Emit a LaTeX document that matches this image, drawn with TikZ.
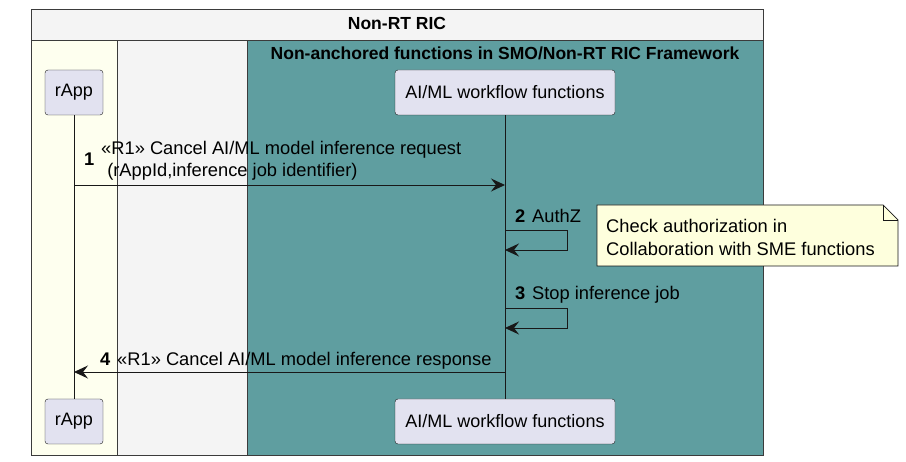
\documentclass[tikz,border=0pt]{standalone}
\usepackage{fontspec}
\setmainfont{Liberation Sans}
\usetikzlibrary{arrows.meta, positioning, calc}

\definecolor{boxgray}{HTML}{F4F4F4}
\definecolor{ivory}{HTML}{FEFFEF}
\definecolor{cadet}{HTML}{5F9EA0}
\definecolor{partfill}{HTML}{E2E2F0}
\definecolor{notefill}{HTML}{FEFFDD}
\definecolor{edge}{HTML}{181818}

\begin{document}
\begin{tikzpicture}[
    x=1pt, y=-1pt,
    >={Stealth[length=14pt, width=13pt, inset=5pt]},
    part/.style={rounded corners=3pt, draw=edge, fill=partfill, minimum height=45pt,
                 inner xsep=8pt, font=\fontsize{18}{20}\selectfont},
    grp/.style={draw=edge!85, line width=0.7pt},
    title/.style={font=\bfseries\fontsize{17.5}{20}\selectfont},
    msg/.style={->, draw=edge, line width=0.9pt},
    lbl/.style={font=\fontsize{18.3}{20}\selectfont, inner sep=0pt, anchor=base west},
    num/.style={font=\bfseries\fontsize{18.3}{20}\selectfont, inner sep=0pt, anchor=base west},
]
  \useasboundingbox (0,0) rectangle (906,462);

  % boxes
  \draw[grp, fill=boxgray] (31,9) rectangle (763,455);
  \draw[grp] (31,40) -- (763,40);
  \node[title] (ric) at (397,23) {Non-RT RIC};
  \draw[grp, fill=ivory] (31,40) rectangle (117,455);
  \draw[grp, fill=cadet] (247,40) rectangle (763,455);
  \node[title] (fw) at (505,53.5)
    {Non-anchored functions in SMO/Non-RT RIC Framework};

  % participants
  \node[part, minimum width=58pt] (rapp) at (74,92.5) {rApp};
  \node[part, minimum width=220pt] (aiml) at (505,92.5) {AI/ML workflow functions};
  \node[part, minimum width=58pt] (rappEnd) at (74,421.5) {rApp};
  \node[part, minimum width=220pt] (aimlEnd) at (505,421.5) {AI/ML workflow functions};
  \draw[edge, line width=0.7pt] (rapp) -- (rappEnd);
  \draw[edge, line width=0.7pt] (aiml) -- (aimlEnd);

  \coordinate (m1) at (0,185);
  \coordinate (m2) at (0,230);
  \coordinate (m3) at (0,308);
  \coordinate (m4) at (0,372);

  % 1
  \draw[msg] (rapp |- m1) -- (aiml |- m1);
  \node[num] (n1) at (84,166) {1};
  \node[lbl] (t1) at (101,155) {«R1» Cancel AI/ML model inference request};
  \node[lbl] (t1b) at (102,177) {\ (rAppId,inference job identifier)};

  % 2
  \draw[msg] (aiml |- m2) -| (567,250) -- ($(aiml |- m2) + (0,20)$);
  \node[num] (n2) at (515,223) {2};
  \node[lbl] (t2) at (532,223) {AuthZ};

  % note
  \draw[edge, line width=0.7pt, fill=notefill]
    (597,205) -- (883,205) -- (898,220) -- (898,266) -- (597,266) -- cycle;
  \draw[edge, line width=0.7pt] (883,205) -- (883,220) -- (898,220);
  \node[lbl] (note1) at (606,233) {Check authorization in};
  \node[lbl] (note2) at (606,256) {Collaboration with SME functions};

  % 3
  \draw[msg] (aiml |- m3) -| (567,328) -- ($(aiml |- m3) + (0,20)$);
  \node[num] (n3) at (515,300) {3};
  \node[lbl] (t3) at (532,300) {Stop inference job};

  % 4
  \draw[msg] (aiml |- m4) -- (rapp |- m4);
  \node[num] (n4) at (100,366) {4};
  \node[lbl] (t4) at (117,366) {«R1» Cancel AI/ML model inference response};
\end{tikzpicture}
\end{document}
